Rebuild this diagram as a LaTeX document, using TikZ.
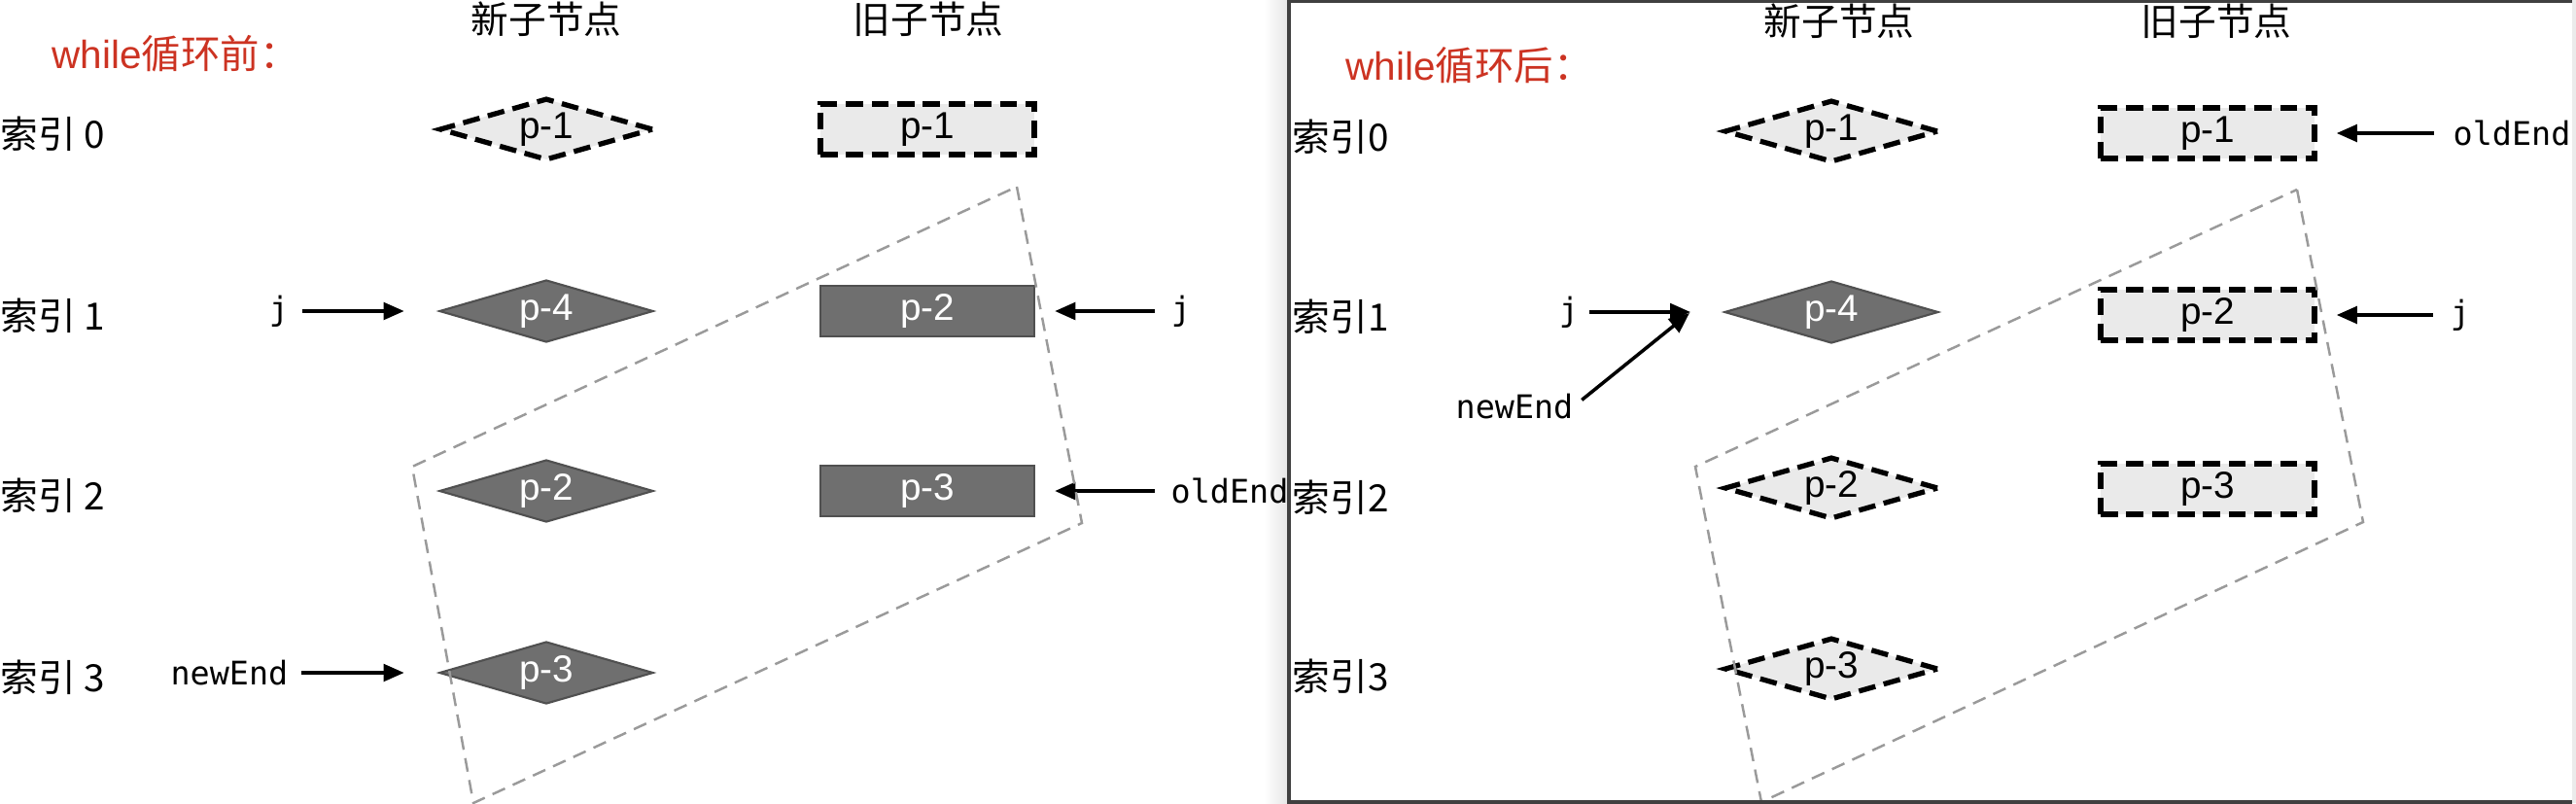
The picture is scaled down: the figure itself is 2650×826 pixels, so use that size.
\documentclass[tikz,border=0pt]{standalone}
\usepackage{fontspec}
\setmainfont{Liberation Sans}
\newfontfamily\cjk{Noto Sans CJK SC}
\newfontfamily\mono{DejaVu Sans Mono}
\usetikzlibrary{shapes.geometric, arrows.meta}

\definecolor{nodegray}{HTML}{6F6F6F}
\definecolor{edgegray}{HTML}{505050}
\definecolor{ghost}{HTML}{EAEAEA}
\definecolor{titlered}{HTML}{CC3322}
\definecolor{boxgray}{HTML}{9A9A9A}

\begin{document}
\begin{tikzpicture}[x=0.01cm, y=-0.01cm,
  newnode/.style={diamond, aspect=3.4, minimum width=2.2cm, minimum height=0.64cm, inner sep=0pt,
    fill=nodegray, draw=edgegray, line width=0.6pt, text=white, font=\fontsize{11pt}{13pt}\selectfont},
  oldnode/.style={rectangle, minimum width=2.2cm, minimum height=0.52cm, inner sep=0pt,
    fill=nodegray, draw=edgegray, line width=0.6pt, text=white, font=\fontsize{11pt}{13pt}\selectfont},
  gone/.style={fill=ghost, draw=black, text=black, line width=1.5pt, dash pattern=on 5pt off 2.5pt},
  idxlabel/.style={anchor=west, inner sep=0pt, font=\cjk\fontsize{11pt}{13pt}\selectfont},
  colhead/.style={inner sep=0pt, font=\cjk\fontsize{11pt}{14pt}\selectfont},
  stagetitle/.style={anchor=west, inner sep=0pt, text=titlered, font=\fontsize{11.5pt}{14pt}\selectfont},
  varlabel/.style={inner sep=0pt, font=\mono\fontsize{9.5pt}{12pt}\selectfont},
  ptr/.style={-{Triangle[length=6pt,width=5pt]}, line width=1pt},
  scanbox/.style={draw=boxgray, line width=0.7pt, dash pattern=on 4pt off 2.5pt}
]
  \useasboundingbox[fill=white] (0,0) rectangle (2650,826);
  \shade[left color=white, right color=black!10] (1300,0) rectangle (1325,826);

  % before the loop
  \node[stagetitle] (t1) at (53,55) {while{\cjk 循环前：}};
  \node[colhead] (hn1) at (562,20) {新子节点};
  \node[colhead] (ho1) at (955,20) {旧子节点};
  \foreach \i/\y in {0/138,1/325,2/510,3/697}
    \node[idxlabel] (ia\i) at (0,\y) {索引 \i};

  \node[newnode, gone] (na0) at (562,133) {p-1};
  \node[newnode] (na1) at (562,320) {p-4};
  \node[newnode] (na2) at (562,505) {p-2};
  \node[newnode] (na3) at (562,692) {p-3};
  \node[oldnode, gone] (oa0) at (954,133) {p-1};
  \node[oldnode] (oa1) at (954,320) {p-2};
  \node[oldnode] (oa2) at (954,505) {p-3};

  \node[varlabel] (ja) at (287,320) {j};
  \node[varlabel, anchor=east] (nea) at (297,692) {newEnd};
  \node[varlabel] (jb) at (1215,320) {j};
  \node[varlabel, anchor=west] (oea) at (1204,505) {oldEnd};

  \draw[ptr, shorten <=3.7pt, shorten >=10pt] (ja) -- (na1);
  \draw[ptr, shorten <=3.7pt, shorten >=10pt] (nea) -- (na3);
  \draw[ptr, shorten <=4.5pt, shorten >=5.7pt] (jb) -- (oa1);
  \draw[ptr, shorten <=4.5pt, shorten >=5.7pt] (oea) -- (oa2);

  \draw[scanbox] (1046,192) -- (1113,538) -- (487,826) -- (424,480) -- cycle;

  % after the loop
  \node[stagetitle] (t2) at (1384,67) {while{\cjk 循环后：}};
  \node[colhead] (hn2) at (1892,22) {新子节点};
  \node[colhead] (ho2) at (2280,22) {旧子节点};
  \foreach \i/\y in {0/141,1/326,2/512,3/696}
    \node[idxlabel] (ib\i) at (1329,\y) {索引\i};

  \node[newnode, gone] (nb0) at (1884,135) {p-1};
  \node[newnode] (nb1) at (1884,321) {p-4};
  \node[newnode, gone] (nb2) at (1884,502) {p-2};
  \node[newnode, gone] (nb3) at (1884,688) {p-3};
  \node[oldnode, gone] (ob0) at (2271,137) {p-1};
  \node[oldnode, gone] (ob1) at (2271,324) {p-2};
  \node[oldnode, gone] (ob2) at (2271,503) {p-3};

  \node[varlabel] (jc) at (1614,321) {j};
  \node[varlabel] (neb) at (1558,418) {newEnd};
  \node[varlabel, anchor=west] (oeb) at (2523,137) {oldEnd};
  \node[varlabel] (jd) at (2531,324) {j};
  \coordinate (hit) at (1738,322);

  \draw[ptr, shorten <=2.8pt, shorten >=9.6pt] (jc) -- (nb1);
  \draw[ptr, shorten <=3pt] (neb.east) -- (hit);
  \draw[ptr, shorten <=5.5pt, shorten >=5.7pt] (oeb) -- (ob0);
  \draw[ptr, shorten <=5pt, shorten >=5.7pt] (jd) -- (ob1);

  \draw[scanbox] (2363,195) -- (2431,537) -- (1812,825) -- (1744,480) -- cycle;

  % frame of the second panel
  \draw[black!75, line width=1pt] (2646,1) -- (1326,1) -- (1326,825) -- (2646,825);
  \draw[black!8, line width=1pt] (2648,0) -- (2648,826);
\end{tikzpicture}
\end{document}
